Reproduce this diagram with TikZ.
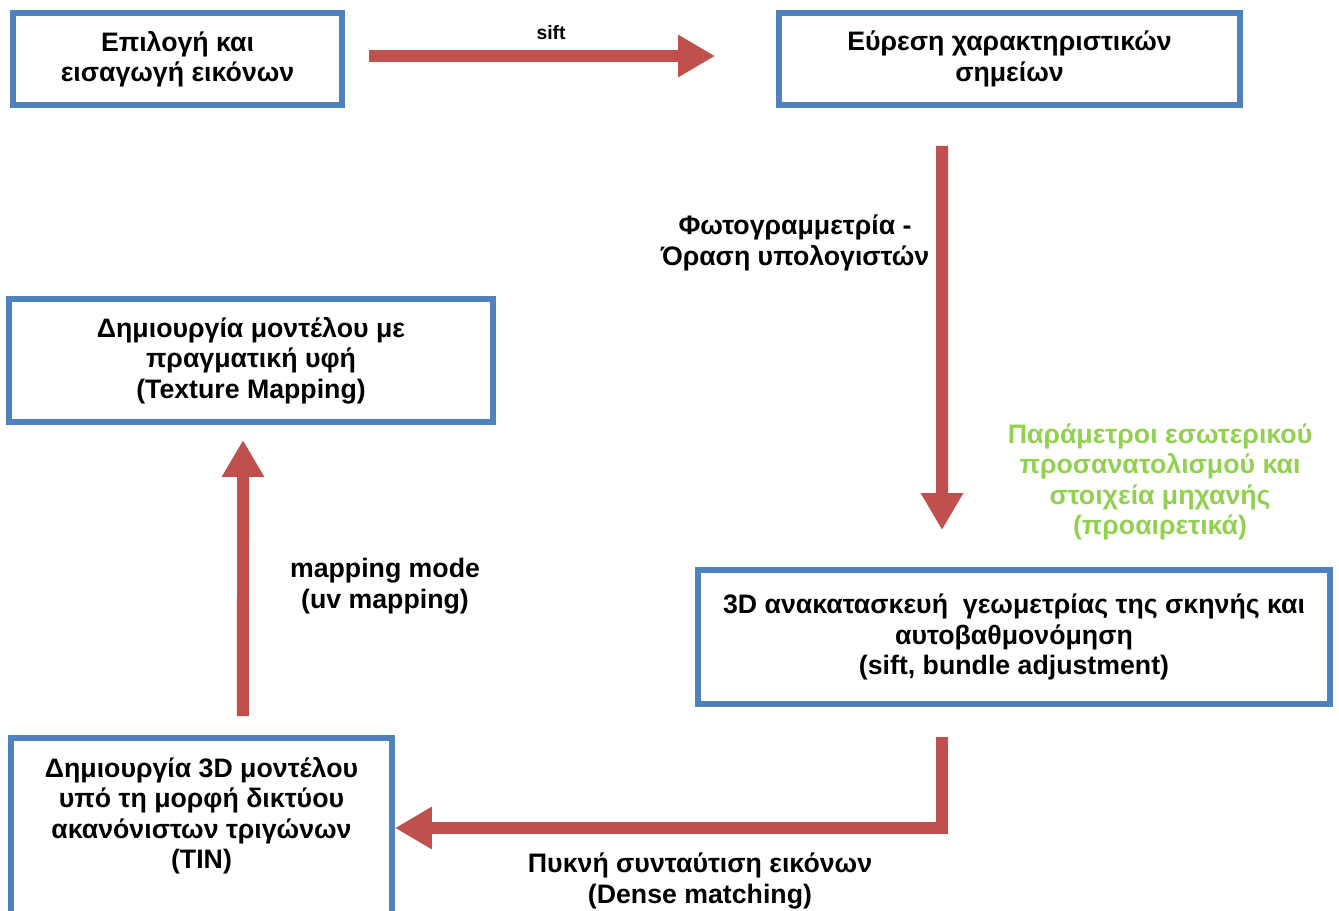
\documentclass[tikz,border=0pt]{standalone}
\usepackage{fontspec}
\setmainfont{Liberation Sans}
\usetikzlibrary{arrows.meta}
\definecolor{boxblue}{HTML}{4F81BD}
\definecolor{flowred}{HTML}{C0504D}
\definecolor{optgreen}{HTML}{92D050}
\tikzset{
  stage/.style={draw=boxblue, line width=0.12cm, fill=white, align=center,
    inner sep=0pt, font=\fontsize{15.2}{17.3}\selectfont\bfseries},
  flow/.style={draw=flowred, line width=0.24cm, line join=miter,
    -{Triangle[length=0.74cm,width=0.8cm]}},
  note/.style={align=center, font=\fontsize{15.2}{17.3}\selectfont\bfseries},
}
\begin{document}
\begin{tikzpicture}[x=0.02cm,y=-0.02cm]
\useasboundingbox (0,0) rectangle (1339,910);
\clip (0,0) rectangle (1339,910);
% stages
\node[stage, minimum width=6.58cm, minimum height=1.84cm] (select) at (177.5,59) {Επιλογή και\\εισαγωγή εικόνων};
\node[stage, minimum width=9.22cm, minimum height=1.84cm] (features) at (1009.5,59) {Εύρεση χαρακτηριστικών\\σημείων};
\node[stage, minimum width=12.64cm, minimum height=2.68cm] (recon) at (1014,637) {3D ανακατασκευή~ γεωμετρίας της σκηνής και\\αυτοβαθμονόμηση\\(sift, bundle adjustment)};
\node[stage, minimum width=7.62cm, minimum height=3.6cm] (tin) at (201.5,828) {Δημιουργία 3D μοντέλου\\υπό τη μορφή δικτύου\\ακανόνιστων τριγώνων\\(TIN)\\\mbox{}};
\node[stage, minimum width=9.68cm, minimum height=2.46cm] (texture) at (251,360.5) {Δημιουργία μοντέλου με\\πραγματική υφή\\(Texture Mapping)};
% connectors
\draw[flow, shorten <=0.48cm, shorten >=1.22cm] ([yshift=0.06cm]select.east) -- ([yshift=0.06cm]features.west);
\draw[flow, shorten <=0.76cm, shorten >=0.74cm] ([xshift=-1.35cm]features.south) -- ([xshift=-1.44cm]recon.north);
\draw[flow, shorten <=0.6cm] ([xshift=-1.44cm]recon.south) |- (tin.east);
\draw[flow, shorten <=0.38cm, shorten >=0.3cm] ([xshift=0.83cm]tin.north) -- ([xshift=-0.16cm]texture.south);
% labels
\node[note, font=\fontsize{11}{14}\selectfont\bfseries] (siftlbl) at (551,33) {sift};
\node[note] (photolbl) at (795,243) {Φωτογραμμετρία -\\Όραση υπολογιστών};
\node[note, text=optgreen] (paramlbl) at (1160,482) {Παράμετροι εσωτερικού\\προσανατολισμού και\\στοιχεία μηχανής\\(προαιρετικά)};
\node[note] (uvlbl) at (385,586) {mapping mode\\(uv mapping)};
\node[note] (denselbl) at (700,881) {Πυκνή συνταύτιση εικόνων\\(Dense matching)};
\end{tikzpicture}
\end{document}
